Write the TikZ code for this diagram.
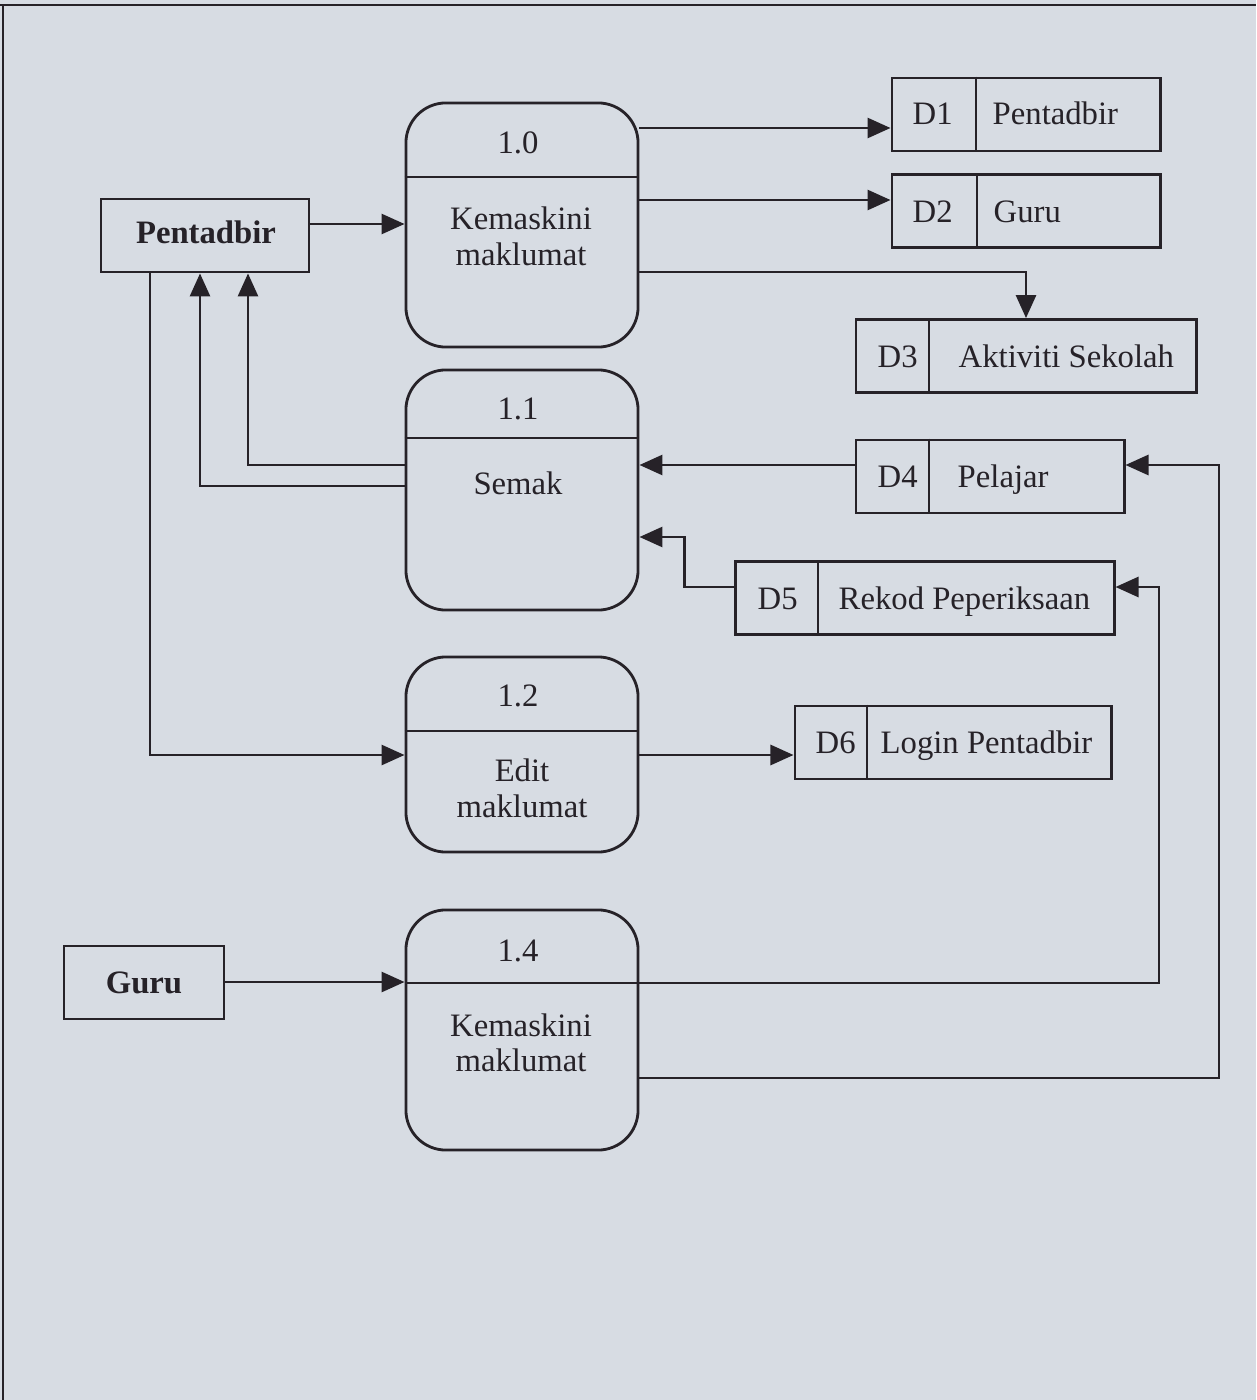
\documentclass[tikz,border=0pt]{standalone}
\usepackage{fontspec}
\setmainfont{Liberation Serif}
\usetikzlibrary{arrows.meta}
\definecolor{paper}{RGB}{215,220,227}
\definecolor{ink}{RGB}{38,34,40}
\begin{document}
\begin{tikzpicture}[x=0.01cm,y=-0.01cm,
  every node/.style={font=\fontsize{9.3pt}{11pt}\selectfont, text=ink},
  ln/.style={draw=ink, line width=0.8pt},
  arr/.style={ln, -{Triangle[length=0.23cm,width=0.2cm]}},
  proc/.style={ln, rounded corners=0.4cm, minimum width=2.32cm, inner sep=0pt},
  ent/.style={ln, inner sep=0pt},
  store/.style={ln, inner sep=0pt, minimum height=0.73cm},
  txt/.style={inner sep=0pt, anchor=base},
  stxt/.style={inner sep=0pt, anchor=base west}]

% page background and frame
\fill[paper] (0,0) rectangle (1256,1400);
\useasboundingbox (0,0) rectangle (1256,1400);
\draw[ink, line width=0.8pt] (0,5) -- (1256,5);
\draw[ink, line width=0.8pt] (3,5) -- (3,1400);

% external entities
\node[ent, minimum width=2.08cm, minimum height=0.73cm] (pent) at (205,235.5) {};
\node[txt, font=\fontsize{9.3pt}{11pt}\selectfont\bfseries] (pentt) at (206,243) {Pentadbir};
\node[ent, minimum width=1.60cm, minimum height=0.73cm] (guru) at (144,982.5) {};
\node[txt, font=\fontsize{9.3pt}{11pt}\selectfont\bfseries] (gurut) at (144,993) {Guru};

% processes
\node[proc, minimum height=2.44cm] (p10) at (522,225) {};
\draw[ln] (p10.west |- 0,177) -- (p10.east |- 0,177);
\node[txt] (p10n) at (518,154) {1.0};
\node[txt] (p10a) at (521,229) {Kemaskini};
\node[txt] (p10b) at (521,265) {maklumat};

\node[proc, minimum height=2.40cm] (p11) at (522,490) {};
\draw[ln] (p11.west |- 0,438) -- (p11.east |- 0,438);
\node[txt] (p11n) at (518,419) {1.1};
\node[txt] (p11a) at (518,494) {Semak};

\node[proc, minimum height=1.95cm] (p12) at (522,754.5) {};
\draw[ln] (p12.west |- 0,731) -- (p12.east |- 0,731);
\node[txt] (p12n) at (518,706) {1.2};
\node[txt] (p12a) at (522,781) {Edit};
\node[txt] (p12b) at (522,817) {maklumat};

\node[proc, minimum height=2.40cm] (p14) at (522,1030) {};
\draw[ln] (p14.west |- 0,983) -- (p14.east |- 0,983);
\node[txt] (p14n) at (518,961) {1.4};
\node[txt] (p14a) at (521,1036) {Kemaskini};
\node[txt] (p14b) at (521,1071) {maklumat};

% data stores
\node[store, minimum width=2.68cm] (d1) at (1026,114.5) {};
\draw[ln] (976,0 |- d1.north) -- (976,0 |- d1.south);
\node[stxt] (d1a) at (912,125) {D1};
\node[stxt] (d1b) at (992,125) {Pentadbir};

\node[store, minimum width=2.68cm] (d2) at (1026,211) {};
\draw[ln] (977,0 |- d2.north) -- (977,0 |- d2.south);
\node[stxt] (d2a) at (912,222) {D2};
\node[stxt] (d2b) at (993,222) {Guru};

\node[store, minimum width=3.40cm] (d3) at (1026,356) {};
\draw[ln] (929,0 |- d3.north) -- (929,0 |- d3.south);
\node[stxt] (d3a) at (877,367) {D3};
\node[stxt] (d3b) at (958,367) {Aktiviti Sekolah};

\node[store, minimum width=2.68cm] (d4) at (990,476.5) {};
\draw[ln] (929,0 |- d4.north) -- (929,0 |- d4.south);
\node[stxt] (d4a) at (877,487) {D4};
\node[stxt] (d4b) at (957,487) {Pelajar};

\node[store, minimum width=3.78cm] (d5) at (925,598) {};
\draw[ln] (818,0 |- d5.north) -- (818,0 |- d5.south);
\node[stxt] (d5a) at (757,609) {D5};
\node[stxt] (d5b) at (838,609) {Rekod Peperiksaan};

\node[store, minimum width=3.16cm] (d6) at (953,742.5) {};
\draw[ln] (867,0 |- d6.north) -- (867,0 |- d6.south);
\node[stxt] (d6a) at (815,753) {D6};
\node[stxt] (d6b) at (880,753) {Login Pentadbir};

% data flows
\draw[arr] (pent.east |- 0,224) -- (p10.west |- 0,224);
\draw[arr] (p10.east |- 0,128) -- (d1.west |- 0,128);
\draw[arr] (p10.east |- 0,200) -- (d2.west |- 0,200);
\draw[arr] (p10.east |- 0,272) -| (d3.north);
\draw[arr] (d4.west |- 0,465) -- (p11.east |- 0,465);
\draw[arr] (d5.west |- 0,587) -- ++(-50,0) |- (p11.east |- 0,537);
\draw[arr] (p11.west |- 0,465) -| (pent.south -| 248,0);
\draw[arr] (p11.west |- 0,486) -| (pent.south -| 200,0);
\draw[arr] (pent.south -| 150,0) |- (p12.west |- 0,755);
\draw[arr] (p12.east |- 0,755) -- (d6.west |- 0,755);
\draw[arr] (guru.east |- 0,982) -- (p14.west |- 0,982);
\draw[arr] (p14.east |- 0,983) -| (1159,587) -- (d5.east |- 0,587);
\draw[arr] (p14.east |- 0,1078) -| (1219,465) -- (d4.east |- 0,465);
\end{tikzpicture}
\end{document}
